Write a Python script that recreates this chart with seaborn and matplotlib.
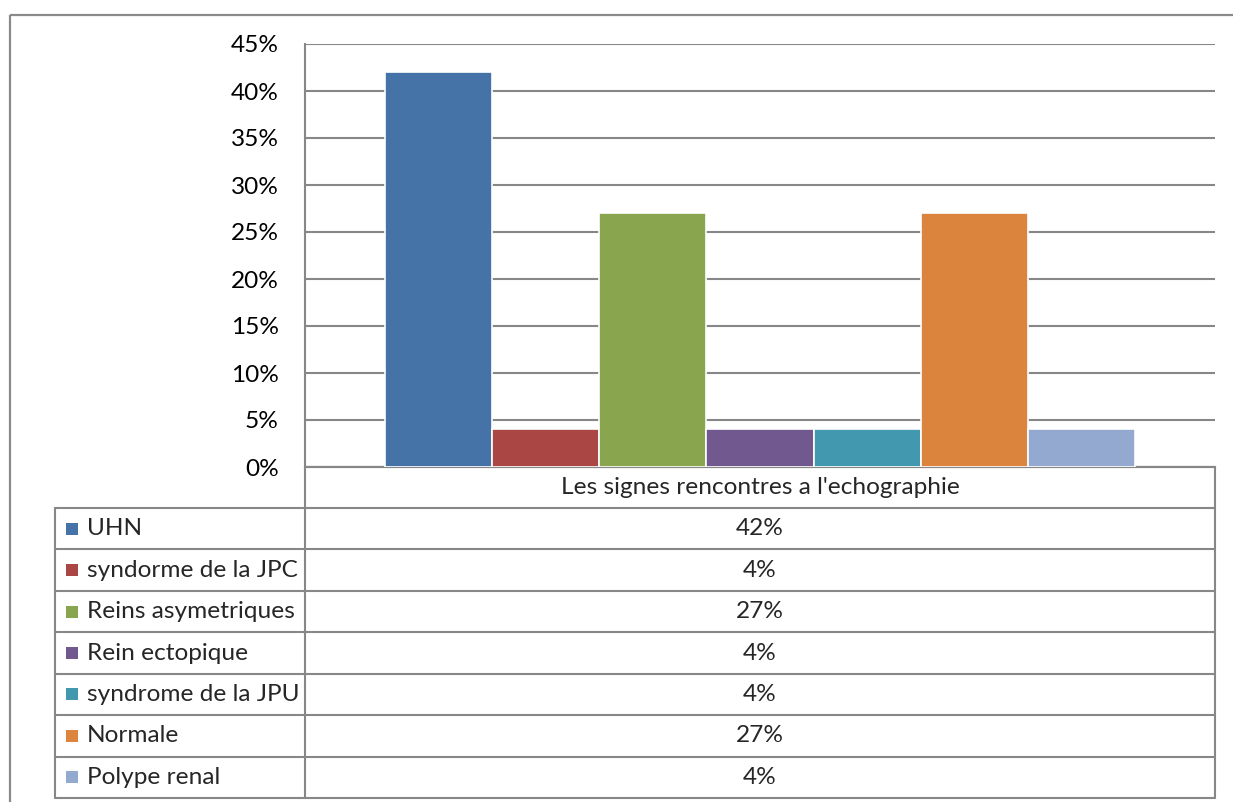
import matplotlib
matplotlib.use("Agg")
import matplotlib.pyplot as plt
import seaborn as sns
import pandas as pd

# Data
labels = ["UHN", "syndorme de la JPC", "Reins asymetriques", "Rein ectopique",
          "syndrome de la JPU", "Normale", "Polype renal"]
values = [42, 4, 27, 4, 4, 27, 4]
colors = ["#4572A7", "#AA4643", "#89A54E", "#71588F", "#4198AF", "#DB843D", "#93A9CF"]
category = "Les signes rencontres a l'echographie"
yticks = [0, 5, 10, 15, 20, 25, 30, 35, 40, 45]

sns.set_theme(style="white")
plt.rcParams["font.family"] = ["Lato", "DejaVu Sans"]
FS = 17.6
LINE = "#878787"

W, H = 1233, 802
fig = plt.figure(figsize=(W / 100, H / 100), dpi=100)
fig.patch.set_facecolor("white")

# Pixel-space overlay for the frame and the data table
ov = fig.add_axes([0, 0, 1, 1], zorder=0)
ov.set_xlim(0, W)
ov.set_ylim(H, 0)
ov.axis("off")

left, right, top, base = 305, 1215, 44, 467
ax = fig.add_axes([left / W, 1 - base / H, (right - left) / W, (base - top) / H], zorder=1)
ax.patch.set_alpha(0)

df = pd.DataFrame({"signe": category, "label": labels, "value": values})
sns.barplot(data=df, x="signe", y="value", hue="label", hue_order=labels,
            palette=colors, saturation=1, width=0.825, edgecolor="white",
            linewidth=1.2, legend=False, ax=ax)

ax.set_ylim(0, 45)
ax.set_yticks(yticks)
ax.set_yticklabels([f"{v}%" for v in yticks], fontsize=FS, color="black")
ax.tick_params(axis="y", length=0, pad=19)
ax.set_xticks([])
ax.set_xlabel("")
ax.set_ylabel("")
ax.yaxis.grid(True, color=LINE, linewidth=1.5)
ax.set_axisbelow(True)
for s in ["top", "right"]:
    ax.spines[s].set_visible(False)
for s in ["left", "bottom"]:
    ax.spines[s].set_color(LINE)
    ax.spines[s].set_linewidth(1.5)
for bar in ax.patches:
    bar.set_zorder(3)

# Outer chart frame
ov.plot([10, 10], [H, 15], color="#8a8a8a", lw=1.6, solid_capstyle="butt")
ov.plot([10, W], [15, 15], color="#8a8a8a", lw=1.6, solid_capstyle="butt")

# Data table
head_top, head_bot, tab_bot = base, 508, 798
row_h = (tab_bot - head_bot) / len(labels)
leg_left = 55
ov.plot([left, left], [head_top, tab_bot], color=LINE, lw=1.5)
ov.plot([right, right], [head_top, tab_bot], color=LINE, lw=1.5)
ov.plot([leg_left, leg_left], [head_bot, tab_bot], color=LINE, lw=1.5)
ov.plot([left, right], [head_top, head_top], color=LINE, lw=1.5)
cx = (left + right) / 2
ov.text(cx, (head_top + head_bot) / 2, category, ha="center", va="center", fontsize=FS)
for i in range(len(labels) + 1):
    y = head_bot + i * row_h
    ov.plot([leg_left, right], [y, y], color=LINE, lw=1.5)
for i, (lab, val, col) in enumerate(zip(labels, values, colors)):
    yc = head_bot + (i + 0.5) * row_h
    ov.add_patch(plt.Rectangle((66, yc - 6), 12, 12, facecolor=col, edgecolor="none"))
    ov.text(87, yc, lab, ha="left", va="center", fontsize=FS)
    ov.text(cx, yc, f"{val}%", ha="center", va="center", fontsize=FS)

fig.savefig("out.png", dpi=100, facecolor="white")
